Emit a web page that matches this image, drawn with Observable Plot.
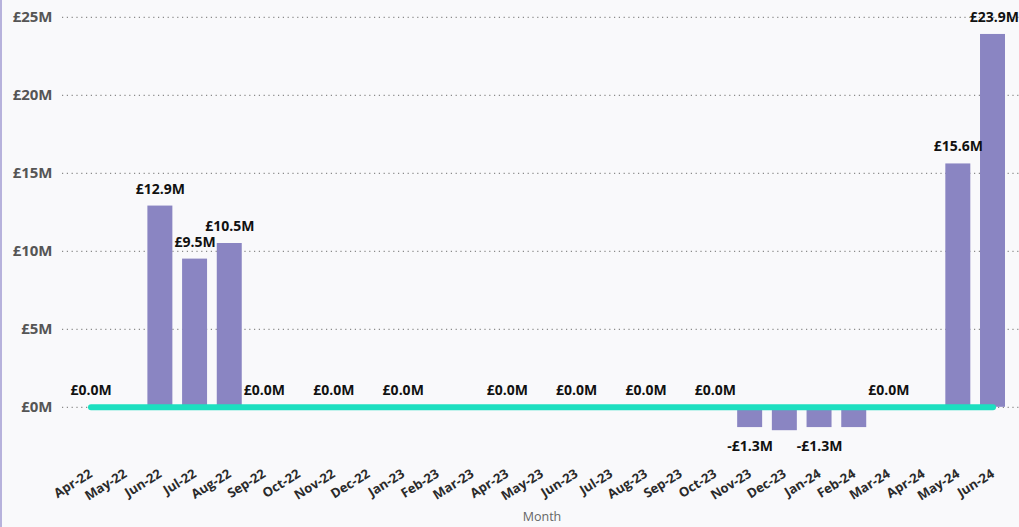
<!DOCTYPE html>
<html>
<head>
<meta charset="utf-8">
<script src="https://cdn.jsdelivr.net/npm/d3@7"></script>
<script src="https://cdn.jsdelivr.net/npm/@observablehq/plot@0.6"></script>
<style>
  html, body { margin: 0; padding: 0; background: #f9f9fb; }
  #wrap { position: relative; width: 1019px; height: 527px; overflow: hidden; }
  #edge { position: absolute; left: 0; top: 0; width: 2px; height: 527px; background: #b7b2dc; }
  svg { display: block; }
</style>
</head>
<body>
<div id="wrap"><div id="edge"></div></div>
<script>
const months = ["Apr-22","May-22","Jun-22","Jul-22","Aug-22","Sep-22","Oct-22","Nov-22","Dec-22","Jan-23","Feb-23","Mar-23","Apr-23","May-23","Jun-23","Jul-23","Aug-23","Sep-23","Oct-23","Nov-23","Dec-23","Jan-24","Feb-24","Mar-24","Apr-24","May-24","Jun-24"];
const values = [0,0,12.9,9.5,10.5,0,0,0,0,0,0,0,0,0,0,0,0,0,0,-1.3,-1.5,-1.3,-1.3,0,0,15.6,23.9];
const lineValues = [0,0,0,0,0,0,0,0,0,0,0,0,0,0,0,0,0,0,0,0,0,0,0,0,0,0,0];
const labelledMonths = ["Apr-22","Jun-22","Jul-22","Aug-22","Sep-22","Nov-22","Jan-23","Apr-23","Jun-23","Aug-23","Oct-23","Nov-23","Jan-24","Mar-24","May-24","Jun-24"];
const yTicks = [0,5,10,15,20,25];

const data = months.map((m, i) => ({month: m, value: values[i], line: lineValues[i]}));
const fmt = v => (v < 0 ? "-" : "") + "£" + Math.abs(v).toFixed(1) + "M";
const labelled = data.filter(d => labelledMonths.includes(d.month));
const lastMonth = months[months.length - 1];

const font = "'Open Sans', 'DejaVu Sans', sans-serif";

const chart = Plot.plot({
  width: 1019,
  height: 527,
  marginLeft: 78,
  marginRight: 14,
  marginTop: 9,
  marginBottom: 89,
  style: {background: "transparent", fontFamily: font, overflow: "visible"},
  x: {domain: months, paddingInner: 0.28, paddingOuter: 0, round: false, label: null},
  y: {domain: [-2, 25.5], label: null},
  marks: [
    Plot.ruleY(yTicks, {stroke: "#8a8a8a", strokeDasharray: "1.2,3.6", strokeWidth: 1.2, insetLeft: -16, insetRight: -14}),
    Plot.barY(data, {x: "month", y: "value", fill: "#8a85c2"}),
    Plot.line(data, {x: "month", y: "line", stroke: "#1ddfc0", strokeWidth: 6}),
    Plot.text(labelled.filter(d => d.value >= 0 && d.month !== lastMonth), {x: "month", y: "value", text: d => fmt(d.value), dy: -17, fontSize: 14, fontWeight: "bold", fill: "#111"}),
    Plot.text(labelled.filter(d => d.month === lastMonth), {x: "month", y: "value", text: d => fmt(d.value), dy: -17, dx: 26, textAnchor: "end", fontSize: 14, fontWeight: "bold", fill: "#111"}),
    Plot.text(labelled.filter(d => d.value < 0), {x: "month", y: "value", text: d => fmt(d.value), dy: 19, fontSize: 14, fontWeight: "bold", fill: "#111"}),
    Plot.axisY(yTicks, {tickSize: 0, tickPadding: 26, tickFormat: d => "£" + d + "M", fontSize: 15, fontWeight: "bold", fill: "#555", label: null}),
    Plot.axisX({tickSize: 0, tickPadding: 34, tickRotate: -32, fontSize: 13, fontWeight: "bold", fill: "#2a2a2a", label: null}),
    Plot.text(["Month"], {frameAnchor: "bottom", dy: 82, fontSize: 12.5, fill: "#666"})
  ]
});
document.getElementById("wrap").appendChild(chart);
</script>
</body>
</html>
